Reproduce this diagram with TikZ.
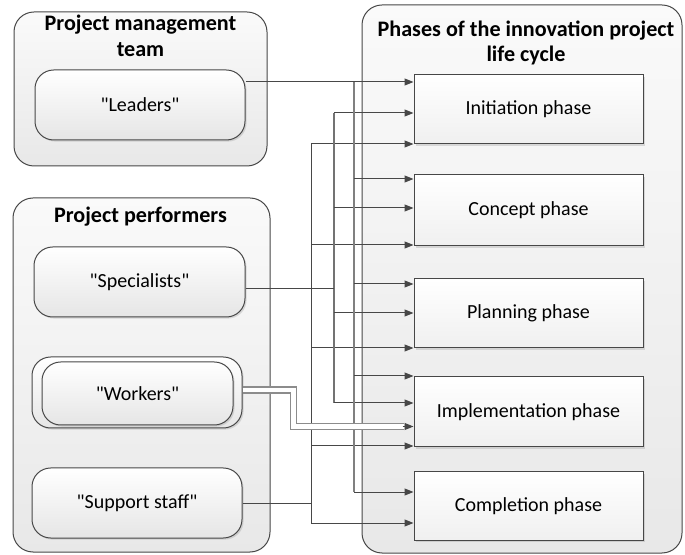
\documentclass[tikz,border=0pt]{standalone}
\usepackage{fontspec}
\setmainfont{Carlito}[Ligatures=TeXOff]
\usetikzlibrary{arrows.meta,shadows}
\begin{document}
\begin{tikzpicture}[x=0.75pt,y=-0.75pt,
  container/.style={draw=black!72, line width=0.75pt, rounded corners=15pt,
    top color=black!2, bottom color=black!9, inner sep=0pt},
  rbox/.style={draw=black!72, line width=0.75pt, rounded corners=14pt,
    top color=white, bottom color=black!10, inner sep=0pt,
    drop shadow={shadow xshift=1.2pt, shadow yshift=-1.2pt, opacity=0.25},
    font=\fontsize{15}{18}\selectfont},
  phasebox/.style={draw=black!72, line width=0.75pt,
    top color=white, bottom color=black!6, inner sep=0pt,
    minimum width=171.75pt,
    drop shadow={shadow xshift=1.2pt, shadow yshift=-1.2pt, opacity=0.25},
    font=\fontsize{15}{18}\selectfont},
  title/.style={font=\bfseries\fontsize{16.6}{19}\selectfont, align=center, inner sep=0pt},
  conn/.style={draw=black!72, line width=0.75pt},
  arr/.style={conn, -{Triangle[length=6.75pt,width=5.25pt]}},
  busL/.style={draw=black!50, line width=1.1pt},
  busS/.style={draw=black!55, line width=0.9pt},
  dbl/.style={draw=black!45, line width=1pt, double=white, double distance=3.5pt}
]
\useasboundingbox (0,0) rectangle (685,555);

% Left: project management team
\node[container, minimum width=189.75pt, minimum height=115.5pt] (pmt) at (140.5,89) {};
\node[title, anchor=north] (pmtt) at (140.5,15) {Project management\\team};
\node[rbox, minimum width=157.5pt, minimum height=52.5pt] (lead) at (140,105) {"Leaders"};

% Left: project performers
\node[container, minimum width=192.75pt, minimum height=265.5pt] (pp) at (141.5,375) {};
\node[title, anchor=north] (ppt) at (140.5,206.5) {Project performers};
\node[rbox, minimum width=158.25pt, minimum height=52.5pt] (spec) at (139.5,282) {"Specialists"};
\node[rbox, minimum width=157.5pt, minimum height=53.25pt] (worko) at (137,392.5) {};
\node[rbox, minimum width=143.25pt, minimum height=47.25pt] (work) at (137.5,393.5) {"Workers"};
\node[rbox, minimum width=157.5pt, minimum height=52.5pt] (supp) at (137,503) {"Support staff"};

% Right: phases
\node[container, minimum width=240pt, minimum height=411pt] (phc) at (522,279) {};
\node[title, anchor=north] (pht) at (526,20.5) {Phases of the innovation project\\life cycle};
\node[phasebox, minimum height=51.75pt] (init) at (528.5,109.5) {Initiation phase};
\node[phasebox, minimum height=53.25pt] (conc) at (528.5,210.5) {Concept phase};
\node[phasebox, minimum height=51.75pt] (plan) at (528.5,313.5) {Planning phase};
\node[phasebox, minimum height=52.5pt] (impl) at (528.5,412) {Implementation phase};
\node[phasebox, minimum height=51pt] (comp) at (528.5,506) {Completion phase};

% Bus coordinates
\coordinate (bL1) at (354,82);  \coordinate (bL2) at (354,492);
\coordinate (bS1) at (334,113); \coordinate (bS2) at (334,403);
\coordinate (bP1) at (311,144); \coordinate (bP2) at (311,523);

% Support staff bus
\draw[conn] (bP1) -- (bP2);
\draw[conn] (supp.east) -- (bP1 |- supp.east);
\draw[arr] (bP1) -- (init.west |- bP1);
\draw[arr] (311,245) -- (conc.west |- 0,245);
\draw[arr] (311,348) -- (plan.west |- 0,348);
\draw[arr] (311,446) -- (impl.west |- 0,446);
\draw[arr] (bP2) -- (comp.west |- bP2);

% Specialists bus
\draw[busS] (bS1) -- (bS2);
\draw[conn] (spec.east |- 0,289) -- (334,289);
\draw[arr] (bS1) -- (init.west |- bS1);
\draw[arr] (334,208) -- (conc.west |- 0,208);
\draw[arr] (334,313) -- (plan.west |- 0,313);
\draw[arr] (bS2) -- (impl.west |- bS2);

% Leaders bus
\draw[busL] (bL1) -- (bL2);
\draw[arr] (lead.east |- bL1) -- (init.west |- bL1);
\draw[arr] (354,179) -- (conc.west |- 0,179);
\draw[arr] (354,284) -- (plan.west |- 0,284);
\draw[arr] (354,376) -- (impl.west |- 0,376);
\draw[arr] (bL2) -- (comp.west |- bL2);

% Workers (double line)
\coordinate (wk) at (404,426.5);
\draw[dbl] (worko.east |- 0,390) -- (293.5,390) -- (293.5,426.5) -- (wk);
\draw[arr] ([xshift=-1pt]wk) -- (impl.west |- wk);
\end{tikzpicture}
\end{document}
